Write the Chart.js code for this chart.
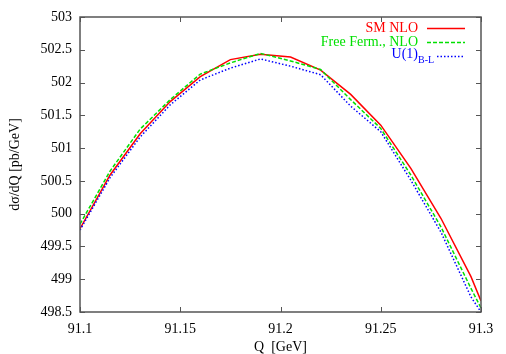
<!DOCTYPE html>
<html>
<head>
<meta charset="utf-8">
<script src="https://cdn.jsdelivr.net/npm/chart.js@4"></script>
<style>
  html, body { margin: 0; padding: 0; background: #fff; }
  #wrap { width: 506px; height: 354px; }
</style>
</head>
<body>
<div id="wrap"><canvas id="chart" width="506" height="354"></canvas></div>
<script>
const qValues = [91.1, 91.115, 91.13, 91.145, 91.16, 91.175, 91.19, 91.205, 91.22, 91.235, 91.25, 91.265, 91.28, 91.295, 91.3];
const smNlo = [499.77, 500.59, 501.22, 501.71, 502.09, 502.35, 502.43, 502.39, 502.19, 501.82, 501.35, 500.69, 499.93, 499.04, 498.67];
const freeFermNlo = [499.84, 500.65, 501.29, 501.74, 502.13, 502.30, 502.445, 502.33, 502.20, 501.74, 501.30, 500.59, 499.80, 498.86, 498.56];
const u1BL = [499.75, 500.55, 501.17, 501.66, 502.04, 502.22, 502.36, 502.25, 502.12, 501.64, 501.25, 500.51, 499.72, 498.73, 498.50];

const xTicks = [91.1, 91.15, 91.2, 91.25, 91.3];
const xTickLabels = ['91.1', '91.15', '91.2', '91.25', '91.3'];
const yTicks = [498.5, 499, 499.5, 500, 500.5, 501, 501.5, 502, 502.5, 503];
const yTickLabels = ['498.5', '499', '499.5', '500', '500.5', '501', '501.5', '502', '502.5', '503'];

const FONT = '"Liberation Serif", "DejaVu Serif", serif';
const AXIS_COLOR = '#555';

function toPoints(ys) {
    return qValues.map((q, i) => ({ x: q, y: ys[i] }));
}

// gnuplot style frame with inward ticks on all four sides
const framePlugin = {
    id: 'frame',
    afterDraw(chart) {
        const { ctx, chartArea: a, scales } = chart;
        const len = 5;
        ctx.save();
        ctx.strokeStyle = AXIS_COLOR;
        ctx.lineWidth = 1;
        ctx.beginPath();
        xTicks.forEach(v => {
            const px = Math.round(scales.x.getPixelForValue(v)) + 0.5;
            ctx.moveTo(px, a.bottom); ctx.lineTo(px, a.bottom - len);
            ctx.moveTo(px, a.top); ctx.lineTo(px, a.top + len);
        });
        yTicks.forEach(v => {
            const py = Math.round(scales.y.getPixelForValue(v)) + 0.5;
            ctx.moveTo(a.left, py); ctx.lineTo(a.left + len, py);
            ctx.moveTo(a.right, py); ctx.lineTo(a.right - len, py);
        });
        ctx.stroke();
        ctx.lineWidth = 1.5;
        ctx.strokeRect(a.left, a.top, a.right - a.left, a.bottom - a.top);
        ctx.restore();
    }
};

// key in the top right corner, text right aligned like gnuplot
const keyPlugin = {
    id: 'key',
    afterDatasetsDraw(chart) {
        const { ctx } = chart;
        const textRight = 418;
        const lineEnd = 465;
        const rows = [
            { y: 28, color: '#ff0000', dash: [], text: 'SM NLO', sub: '', lineStart: 427 },
            { y: 42, color: '#00e000', dash: [4, 2], text: 'Free Ferm., NLO', sub: '', lineStart: 427 },
            { y: 56, color: '#0000ff', dash: [1.5, 2], text: 'U(1)', sub: 'B-L', lineStart: 437 }
        ];
        ctx.save();
        ctx.textBaseline = 'middle';
        rows.forEach(r => {
            ctx.fillStyle = r.color;
            if (r.sub) {
                ctx.font = '14px ' + FONT;
                ctx.textAlign = 'right';
                ctx.fillText(r.text, textRight, r.y - 2);
                ctx.font = '10px ' + FONT;
                ctx.textAlign = 'left';
                ctx.fillText(r.sub, textRight, r.y + 4);
            } else {
                ctx.font = '14px ' + FONT;
                ctx.textAlign = 'right';
                ctx.fillText(r.text, textRight, r.y);
            }
            ctx.strokeStyle = r.color;
            ctx.lineWidth = 1.5;
            ctx.setLineDash(r.dash);
            ctx.beginPath();
            ctx.moveTo(r.lineStart, r.y + 0.5);
            ctx.lineTo(lineEnd, r.y + 0.5);
            ctx.stroke();
        });
        ctx.restore();
    }
};

const ctx = document.getElementById('chart').getContext('2d');
const chart = new Chart(ctx, {
    type: 'line',
    data: {
        datasets: [
            { label: 'SM NLO', data: toPoints(smNlo), borderColor: '#ff0000', borderWidth: 1.5, pointRadius: 0, order: 3 },
            { label: 'Free Ferm., NLO', data: toPoints(freeFermNlo), borderColor: '#00e000', borderWidth: 1.5, borderDash: [4, 2], pointRadius: 0, order: 2 },
            { label: 'U(1)B-L', data: toPoints(u1BL), borderColor: '#0000ff', borderWidth: 1.5, borderDash: [1.5, 2], pointRadius: 0, order: 1 }
        ]
    },
    options: {
        responsive: false,
        animation: false,
        events: [],
        layout: { padding: { top: 17, right: 25, left: 0, bottom: 0 } },
        plugins: {
            legend: { display: false },
            tooltip: { enabled: false }
        },
        scales: {
            x: {
                type: 'linear',
                min: 91.1,
                max: 91.3,
                afterBuildTicks: s => { s.ticks = xTicks.map(v => ({ value: v })); },
                afterFit: s => { s.height = 42; },
                grid: { display: false, drawTicks: false },
                border: { display: false },
                ticks: {
                    padding: 9,
                    color: '#000',
                    font: { family: FONT, size: 14 },
                    maxRotation: 0,
                    autoSkip: false,
                    callback: (v, i) => xTickLabels[i]
                },
                title: {
                    display: true,
                    text: 'Q  [GeV]',
                    color: '#000',
                    font: { family: FONT, size: 14 },
                    padding: { top: 0, bottom: -2 }
                }
            },
            y: {
                type: 'linear',
                min: 498.5,
                max: 503,
                afterBuildTicks: s => { s.ticks = yTicks.map(v => ({ value: v })); },
                afterFit: s => { s.width = 80; },
                grid: { display: false, drawTicks: false },
                border: { display: false },
                ticks: {
                    padding: 8,
                    color: '#000',
                    font: { family: FONT, size: 14 },
                    autoSkip: false,
                    callback: (v, i) => yTickLabels[i]
                },
                title: {
                    display: true,
                    text: 'dσ/dQ [pb/GeV]',
                    color: '#000',
                    font: { family: FONT, size: 14 },
                    padding: { top: 7, bottom: 0 }
                }
            }
        }
    },
    plugins: [framePlugin, keyPlugin]
});
</script>
</body>
</html>
